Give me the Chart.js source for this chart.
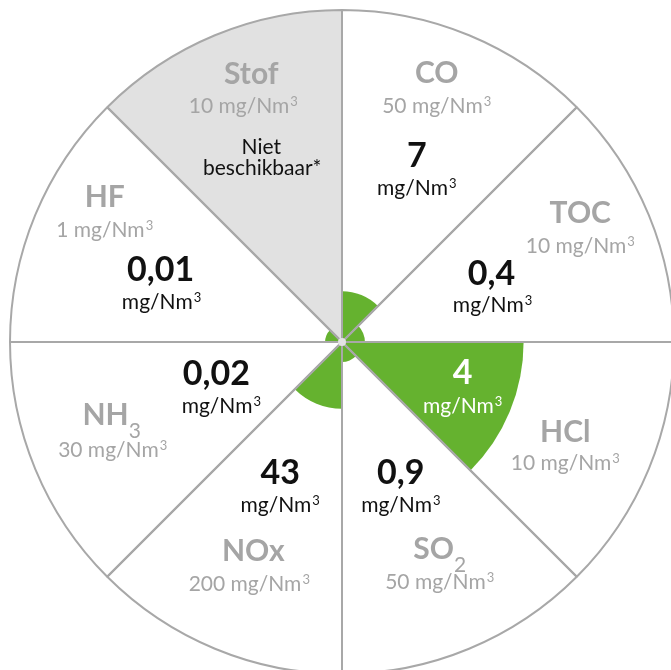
<!DOCTYPE html>
<html>
<head>
<meta charset="utf-8">
<script src="https://cdn.jsdelivr.net/npm/chart.js@4.4.1/dist/chart.umd.min.js"></script>
<style>
  html, body { margin: 0; padding: 0; background: #fff; overflow: hidden; }
  #wrap { position: absolute; left: 0; top: 0; width: 686px; height: 686px; }
</style>
</head>
<body>
<div id="wrap"><canvas id="myChart" width="686" height="686"></canvas></div>
<script>
// data

const labels = ['CO', 'TOC', 'HCl', 'SO2', 'NOx', 'NH3', 'HF', 'Stof'];
const limits = [50, 10, 10, 50, 200, 30, 1, 10]; // emissiegrens in mg/Nm3
const measured = ['7', '0,4', '4', '0,9', '43', '0,02', '0,01', null];
// green wedge radius as % of the full circle
const fillPct = [15.3, 6.9, 54.7, 6, 20.1, 0, 5.1, 0];
const full = [100, 100, 100, 100, 100, 100, 100, 100];

const grey = '#a5a5a5';
const green = '#65b22f';
const lineGrey = '#a8a8a8';

// text spots per segment, offsets from centre (px at radius 333), alphabetic baseline
const textPos = [
  {name: [95, -260], limit: [95, -230], value: [75, -176], unit: [75, -147]},
  {name: [239, -119], limit: [239, -89], value: [150, -57], unit: [151, -30]},
  {name: [224, 100], limit: [224, 128], value: [121, 42], unit: [121, 71]},
  {name: [98, 218], limit: [98, 248], value: [59, 142], unit: [59, 171]},
  {name: [-89, 220], limit: [-93, 250], value: [-62, 142], unit: [-62, 171]},
  {name: [-231, 83], limit: [-230, 115], value: [-126, 43], unit: [-121, 71]},
  {name: [-238, -135], limit: [-238, -105], value: [-182, -61], unit: [-181, -33]},
  {name: [-91, -259], limit: [-99, -230], value: [-81, -189], unit: [-80, -168]},
];

const segmentText = {
  id: 'segmentText',
  afterDatasetsDraw(chart) {
    const ctx = chart.ctx;
    const r = chart.scales.r;
    const cx = r.xCenter, cy = r.yCenter, k = r.drawingArea / 333;

    // centre dot
    ctx.save();
    ctx.beginPath();
    ctx.arc(cx, cy, 4, 0, Math.PI * 2);
    ctx.fillStyle = '#e3e3e3';
    ctx.fill();

    ctx.textAlign = 'left';
    ctx.textBaseline = 'alphabetic';

    const put = (txt, pos, font, color) => {
      ctx.font = font;
      ctx.fillStyle = color;
      const w = ctx.measureText(txt).width;
      ctx.fillText(txt, cx + pos[0] * k - w / 2, cy + pos[1] * k);
    };

    // "mg/Nm" with a raised 3
    const putUnit = (pre, pos, color) => {
      const txt = pre + 'mg/Nm';
      ctx.font = '21px Lato';
      const w1 = ctx.measureText(txt).width;
      ctx.font = '13px Lato';
      const w2 = ctx.measureText('3').width;
      const x0 = cx + pos[0] * k - (w1 + w2 + 1) / 2;
      const y0 = cy + pos[1] * k;
      ctx.fillStyle = color;
      ctx.font = '21px Lato';
      ctx.fillText(txt, x0, y0);
      ctx.font = '13px Lato';
      ctx.fillText('3', x0 + w1 + 1, y0 - 7);
    };

    // colour depends on whether the spot sits inside the green wedge
    const colorAt = (i, pos) => {
      const d = Math.hypot(pos[0], pos[1]) * k;
      return d < r.getDistanceFromCenterForValue(fillPct[i]) ? '#fff' : '#111';
    };

    labels.forEach((lab, i) => {
      const p = textPos[i];
      // name, with subscript digit
      const m = lab.match(/^(.*?)(\d*)$/);
      ctx.font = 'bold 30px Lato';
      const w1 = ctx.measureText(m[1]).width;
      ctx.font = '21px Lato';
      const w2 = m[2] ? ctx.measureText(m[2]).width : 0;
      const x0 = cx + p.name[0] * k - (w1 + w2) / 2;
      const y0 = cy + p.name[1] * k;
      ctx.font = 'bold 30px Lato';
      ctx.fillStyle = grey;
      ctx.fillText(m[1], x0, y0);
      if (m[2]) {
        ctx.font = '21px Lato';
        ctx.fillText(m[2], x0 + w1, y0 + 13);
      }

      putUnit(limits[i] + ' ', p.limit, grey);

      if (measured[i] !== null) {
        put(measured[i], p.value, 'bold 34px Lato', colorAt(i, p.value));
        putUnit('', p.unit, colorAt(i, p.unit));
      } else {
        put('Niet', p.value, '21px Lato', '#111');
        put('beschikbaar*', p.unit, '21px Lato', '#111');
      }
    });
    ctx.restore();
  }
};

const ctx = document.getElementById('myChart').getContext('2d');
const myChart = new Chart(ctx, {
  type: 'polarArea',
  data: {
    labels: labels,
    datasets: [
      {
        // outlines on top
        data: full,
        backgroundColor: 'rgba(0,0,0,0)',
        borderColor: lineGrey,
        borderWidth: 2,
        order: 1,
      },
      {
        data: fillPct,
        backgroundColor: green,
        borderWidth: 0,
        order: 2,
      },
      {
        // segment backgrounds, Stof greyed out
        data: full,
        backgroundColor: labels.map(l => l === 'Stof' ? '#e1e1e1' : '#ffffff'),
        borderWidth: 0,
        order: 3,
      },
    ]
  },
  options: {
    responsive: false,
    animation: false,
    events: [],
    layout: { padding: { left: 10, right: 11, top: 9, bottom: 11 } },
    plugins: {
      legend: { display: false },
      tooltip: { enabled: false },
    },
    scales: {
      r: {
        min: 0,
        max: 100,
        ticks: { display: false },
        grid: { display: false },
        angleLines: { display: false },
        pointLabels: { display: false },
      }
    }
  },
  plugins: [segmentText]
});
</script>
</body>
</html>
